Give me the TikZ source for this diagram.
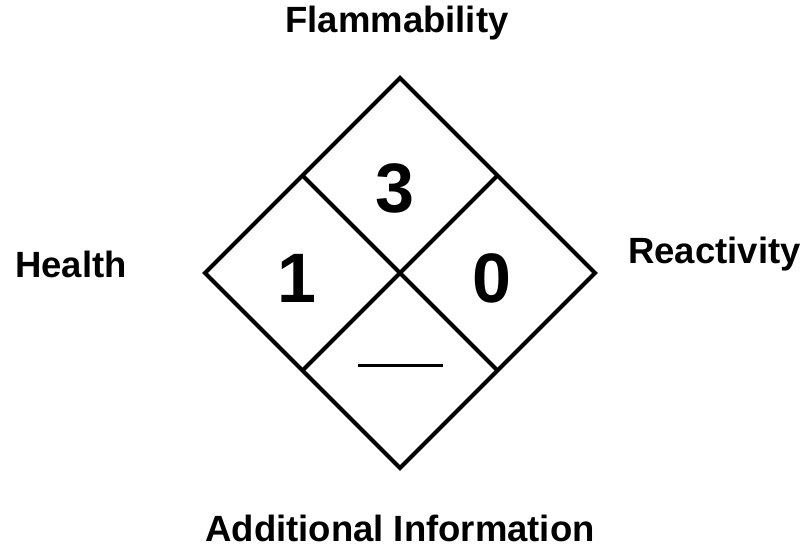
\documentclass[tikz,border=0pt]{standalone}
\usepackage{fontspec}
\setmainfont{Liberation Sans}
\begin{document}
\begin{tikzpicture}[x=1pt,y=1pt,
	side/.style={font=\fontsize{36.5}{44}\selectfont\bfseries,inner sep=0pt},
	rating/.style={font=\fontsize{70}{84}\selectfont\bfseries,inner sep=0pt}]
	
	\useasboundingbox (-400,-279) rectangle (410,273);
	
	% outer diamond
	\draw[line width=4pt,line join=miter] (0,195) -- ++(195,-195) -- ++(-195,-195) -- ++(-195,195) -- cycle;
	
	% inner cross
	\draw[line width=4pt] (-97.5,97.5) -- (97.5,-97.5)
	                      (97.5,97.5) -- (-97.5,-97.5);
	
	% ratings
	\node[rating] (fire) at (-5,85) {3};
	\node[rating] (health) at (-103,-5) {1};
	\node[rating] (react) at (92,-5) {0};
	\draw[line width=3pt] (-42,-92) -- (43,-92);
	
	% labels
	\node[side,anchor=base] (flamlbl) at (-3,240) {Flammability};
	\node[side,anchor=base west] (healthlbl) at (-385,-4) {Health};
	\node[side,anchor=base west] (reactlbl) at (228,10) {Reactivity};
	\node[side,anchor=base] (infolbl) at (0,-268) {Additional Information};
\end{tikzpicture}
\end{document}
